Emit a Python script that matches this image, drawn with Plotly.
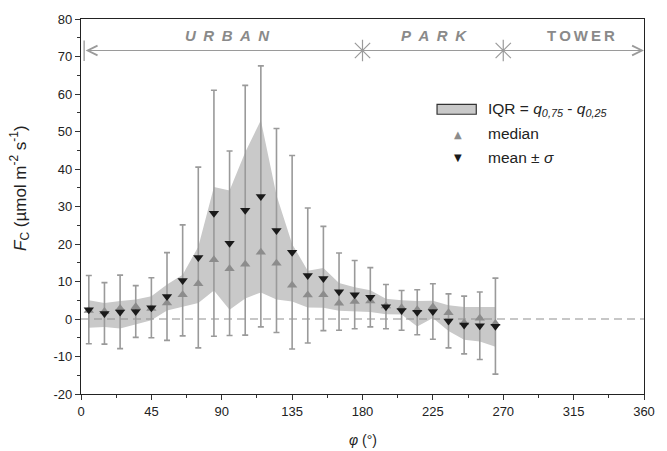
import plotly.graph_objects as go

# ---------------- data ----------------
phi = [5, 15, 25, 35, 45, 55, 65, 75, 85, 95, 105, 115, 125, 135, 145, 155, 165, 175,
       185, 195, 205, 215, 225, 235, 245, 255, 265]
mean_fc = [2.5, 1.5, 1.9, 2.0, 3.0, 6.0, 10.3, 16.4, 28.2, 20.2, 29.0, 32.7, 23.6, 17.8,
           11.6, 10.8, 7.3, 6.5, 5.8, 3.3, 2.3, 1.8, 2.0, -0.5, -1.6, -1.8, -1.9]
sigma_fc = [9.1, 8.2, 9.8, 6.9, 8.0, 11.7, 14.8, 24.1, 32.8, 24.6, 33.3, 34.8, 27.2, 25.8,
            18.0, 13.9, 10.3, 9.1, 7.9, 5.9, 5.3, 6.0, 7.4, 7.2, 7.7, 9.0, 12.8]
median_fc = [2.3, 2.0, 2.8, 3.3, 2.8, 4.3, 6.5, 9.4, 15.8, 13.4, 14.6, 17.8, 14.9, 9.0,
             6.4, 6.5, 4.2, 4.7, 4.8, 3.5, 3.0, 2.5, 3.2, 1.7, -1.0, 0.2, -1.2]
q75_fc = [5.0, 4.3, 4.8, 5.2, 6.1, 9.2, 11.8, 19.3, 35.2, 34.3, 44.5, 53.0, 33.0, 20.0,
          12.9, 13.6, 9.6, 8.5, 7.7, 5.4, 5.0, 4.8, 4.9, 3.7, 3.2, 3.2, 3.2]
q25_fc = [-2.3, -2.1, -2.5, -1.4, -0.3, 2.3, 3.2, 4.3, 7.6, 2.5, 5.5, 7.1, 5.2, 4.7,
          3.1, 3.0, 2.2, 2.1, 1.9, 1.3, 1.2, -2.0, 0.3, -3.2, -5.5, -6.0, -7.4]

region_bounds = [180, 270]
region_labels = ["<i><b>U\u2002R\u2002B\u2002A\u2002N</b></i>",
                 "<i><b>P\u2002A\u2002R\u2002K</b></i>",
                 "<b>T\u2009O\u2009W\u2009E\u2009R</b>"]
region_label_x = [93.5, 225.5, 319.5]

x_range = [0, 360]
y_range = [-20, 80]
x_ticks = [0, 45, 90, 135, 180, 225, 270, 315, 360]
y_ticks = [-20, -10, 0, 10, 20, 30, 40, 50, 60, 70, 80]
y_ticktext = ["-20", "-10", "0", "10", "20", "30", "40", "50", "60", "70", "80"]

FONT = "Liberation Sans, Arial, sans-serif"
GRAY = "#9a9a9a"
BAND = "#c9c9c9"

fig = go.Figure()

# IQR band
fig.add_trace(go.Scatter(x=phi, y=q25_fc, mode="lines", line=dict(width=0),
                         showlegend=False, hoverinfo="skip"))
fig.add_trace(go.Scatter(x=phi, y=q75_fc, mode="lines", line=dict(width=0),
                         fill="tonexty", fillcolor=BAND, showlegend=False, hoverinfo="skip"))

# zero dashed line
fig.add_trace(go.Scatter(x=x_range, y=[0, 0], mode="lines",
                         line=dict(color="#8f8f8f", width=1.2, dash="8px,5px"),
                         showlegend=False, hoverinfo="skip"))

# error bars (mean +- sigma)
fig.add_trace(go.Scatter(x=phi, y=mean_fc, mode="markers",
                         marker=dict(size=1, opacity=0),
                         error_y=dict(type="data", array=sigma_fc, visible=True,
                                      color=GRAY, thickness=1.6, width=3),
                         showlegend=False, hoverinfo="skip"))
# median
fig.add_trace(go.Scatter(x=phi, y=median_fc, mode="markers",
                         marker=dict(symbol="triangle-up", size=9, color="#8c8c8c"),
                         showlegend=False))
# mean
fig.add_trace(go.Scatter(x=phi, y=mean_fc, mode="markers",
                         marker=dict(symbol="triangle-down", size=9, color="#1a1a1a"),
                         showlegend=False))

# region header
HEAD_Y = 71.6
fig.add_annotation(x=x_range[1], y=HEAD_Y, ax=2, ay=HEAD_Y, xref="x", yref="y",
                   axref="x", ayref="y", text="", showarrow=True, arrowside="end+start",
                   arrowhead=5, arrowsize=1.6, arrowwidth=1.2, arrowcolor=GRAY, standoff=0,
                   startstandoff=0, startarrowhead=5, startarrowsize=1.6)
fig.add_shape(type="line", x0=2, x1=2, y0=68.8, y1=74.3, xref="x", yref="y",
              line=dict(color=GRAY, width=1.3))
fig.add_trace(go.Scatter(x=region_bounds, y=[HEAD_Y] * len(region_bounds), mode="markers",
                         marker=dict(symbol="asterisk-open", size=18, color=GRAY,
                                     line=dict(color=GRAY, width=1.2)),
                         showlegend=False, hoverinfo="skip", cliponaxis=False))
for lx, lt in zip(region_label_x, region_labels):
    fig.add_annotation(x=lx, y=75.6, xref="x", yref="y", text=lt, showarrow=False,
                       font=dict(family=FONT, size=15, color="#8a8a8a"))

# manual legend
LEG_FS = 15.5
fig.add_shape(type="rect", xref="paper", yref="paper", x0=0.6324, x1=0.7021,
              y0=0.746, y1=0.7725, fillcolor=BAND, line=dict(color="#333333", width=1.2))
fig.add_annotation(xref="paper", yref="paper", x=0.7195, y=0.759, xanchor="left",
                   yanchor="middle", showarrow=False,
                   text="IQR = <i>q</i><sub><i>0,75</i></sub> - <i>q</i><sub><i>0,25</i></sub>",
                   font=dict(family=FONT, size=LEG_FS, color="#222"))
fig.add_annotation(xref="paper", yref="paper", x=0.669, y=0.693, xanchor="center",
                   yanchor="middle", showarrow=False, text="▲",
                   font=dict(family="DejaVu Sans", size=10, color="#8c8c8c"))
fig.add_annotation(xref="paper", yref="paper", x=0.7195, y=0.694, xanchor="left",
                   yanchor="middle", showarrow=False, text="median",
                   font=dict(family=FONT, size=LEG_FS, color="#222"))
fig.add_annotation(xref="paper", yref="paper", x=0.669, y=0.6296, xanchor="center",
                   yanchor="middle", showarrow=False, text="▼",
                   font=dict(family="DejaVu Sans", size=10, color="#1a1a1a"))
fig.add_annotation(xref="paper", yref="paper", x=0.7195, y=0.6296, xanchor="left",
                   yanchor="middle", showarrow=False, text="mean ± <i>σ</i>",
                   font=dict(family=FONT, size=LEG_FS, color="#222"))

# axis titles
fig.add_annotation(xref="paper", yref="paper", x=-0.108, y=0.55, textangle=-90,
                   showarrow=False, xanchor="center", yanchor="middle",
                   text="<i>F</i><sub>C</sub> (µmol m<sup>-2</sup> s<sup>-1</sup>)",
                   font=dict(family=FONT, size=17, color="#222"))
fig.add_annotation(xref="paper", yref="paper", x=0.5, y=-0.122, showarrow=False,
                   xanchor="center", yanchor="middle", text="<i>φ</i> (°)",
                   font=dict(family=FONT, size=14, color="#222"))

fig.update_xaxes(range=x_range, tickvals=x_ticks, ticks="outside", ticklen=5,
                 tickwidth=1, tickcolor="#333", showline=True, linecolor="#222",
                 linewidth=1.2, mirror=True, showgrid=False, zeroline=False,
                 tickfont=dict(family=FONT, size=13, color="#222"),
                 minor=dict(dtick=22.5, tick0=0, ticks="outside", ticklen=3,
                            tickcolor="#333", showgrid=False))
fig.update_yaxes(range=y_range, tickvals=y_ticks, ticktext=y_ticktext, ticks="outside",
                 ticklen=5, tickwidth=1, tickcolor="#333", showline=True, linecolor="#222",
                 linewidth=1.2, mirror=True, showgrid=False, zeroline=False,
                 tickfont=dict(family=FONT, size=13, color="#222"),
                 minor=dict(dtick=5, tick0=0, ticks="outside", ticklen=3,
                            tickcolor="#333", showgrid=False))

fig.update_layout(width=667, height=451, margin=dict(l=81, r=12, t=16, b=57),
                  paper_bgcolor="white", plot_bgcolor="white", showlegend=False,
                  font=dict(family=FONT))

fig.write_html("out.html")
